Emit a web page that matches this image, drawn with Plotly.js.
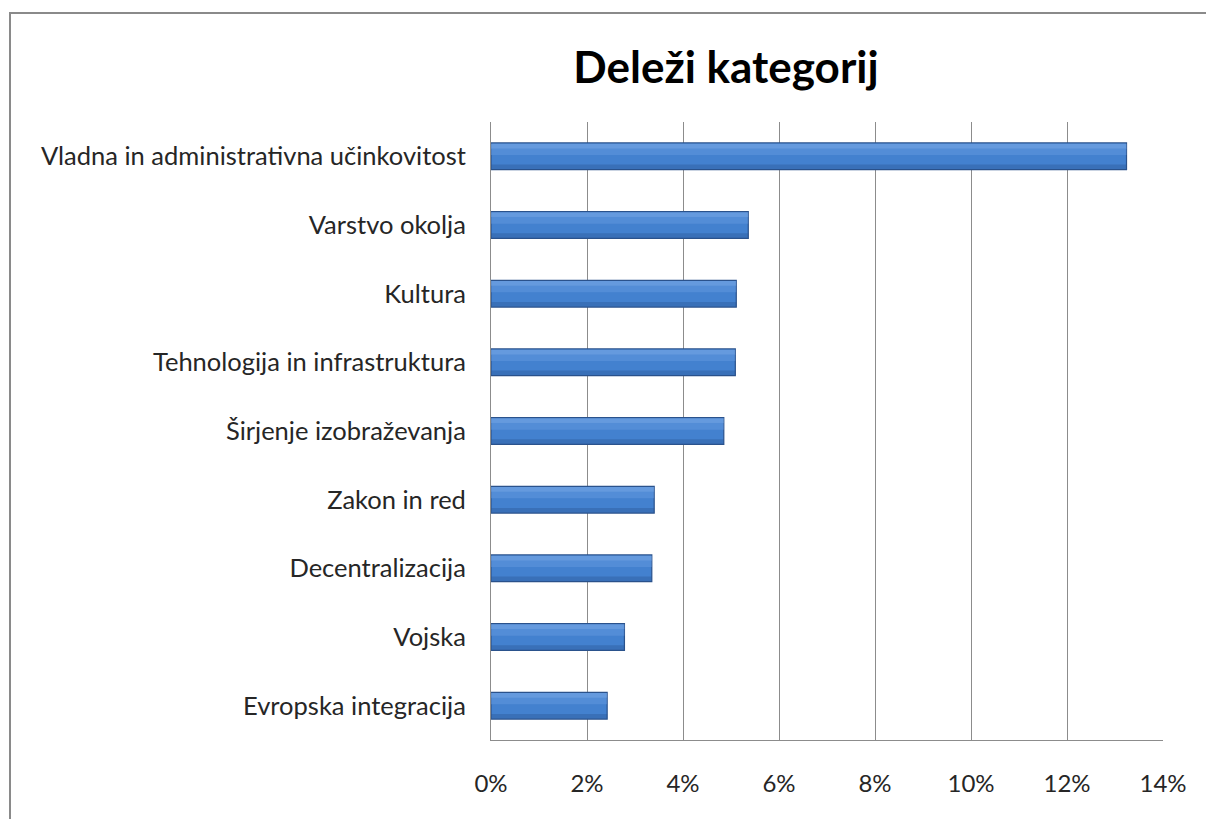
<!DOCTYPE html>
<html>
<head>
<meta charset="utf-8">
<script src="https://cdn.plot.ly/plotly-3.0.1.min.js"></script>
<style>
  html, body { margin: 0; padding: 0; background: #fff; }
  #chart { width: 1206px; height: 819px; }
  #frame { position: absolute; left: 9px; top: 12px; width: 1197px; height: 807px;
           border-top: 2px solid #8a8a8a; border-left: 2px solid #8a8a8a; pointer-events: none; }
</style>
</head>
<body>
<div id="chart"></div>
<div id="frame"></div>
<script>
const categories = [
  "Vladna in administrativna učinkovitost",
  "Varstvo okolja",
  "Kultura",
  "Tehnologija in infrastruktura",
  "Širjenje izobraževanja",
  "Zakon in red",
  "Decentralizacija",
  "Vojska",
  "Evropska integracija"
];
const shares = [0.1324, 0.0536, 0.0511, 0.0509, 0.0485, 0.0340, 0.0335, 0.0278, 0.0242];
const tickValues = [0, 0.02, 0.04, 0.06, 0.08, 0.10, 0.12, 0.14];
const tickLabels = ["0%", "2%", "4%", "6%", "8%", "10%", "12%", "14%"];

const FONT = "Lato, 'Open Sans', sans-serif";

const traces = [
  {
    type: "bar",
    orientation: "h",
    y: categories,
    x: shares,
    marker: { color: "#4381cf", line: { color: "#2a528c", width: 1.2 } },
    hoverinfo: "x+y"
  },
  {
    type: "bar",
    orientation: "h",
    y: categories,
    x: shares,
    width: 0.07,
    offset: -0.185,
    marker: { color: "rgba(125,172,232,0.6)", line: { width: 0 } },
    hoverinfo: "skip"
  },
  {
    type: "bar",
    orientation: "h",
    y: categories,
    x: shares,
    width: 0.1,
    offset: -0.12,
    marker: { color: "rgba(105,156,224,0.45)", line: { width: 0 } },
    hoverinfo: "skip"
  },
  {
    type: "bar",
    orientation: "h",
    y: categories,
    x: shares,
    width: 0.07,
    offset: 0.12,
    marker: { color: "rgba(40,80,140,0.35)", line: { width: 0 } },
    hoverinfo: "skip"
  }
];

const layout = {
  width: 1206,
  height: 819,
  paper_bgcolor: "#ffffff",
  plot_bgcolor: "#ffffff",
  showlegend: false,
  barmode: "overlay",
  bargap: 0.61,
  margin: { l: 491, r: 43, t: 122, b: 79 },
  title: {
    text: "<b>Deleži kategorij</b>",
    font: { family: FONT, size: 44, color: "#000" },
    x: 0.602, xanchor: "center",
    y: 0.917, yanchor: "middle"
  },
  xaxis: {
    range: [0, 0.14],
    tickvals: tickValues,
    ticktext: tickLabels,
    showgrid: true,
    gridcolor: "#8c8c8c",
    gridwidth: 1,
    showline: true,
    linecolor: "#8c8c8c",
    linewidth: 1,
    zeroline: false,
    ticks: "",
    ticklabelstandoff: 22,
    tickfont: { family: FONT, size: 24, color: "#262626" },
    fixedrange: true
  },
  yaxis: {
    autorange: "reversed",
    showgrid: false,
    showline: true,
    linecolor: "#8c8c8c",
    linewidth: 1,
    ticks: "",
    ticklabelstandoff: 19,
    tickfont: { family: FONT, size: 25.5, color: "#262626" },
    fixedrange: true
  }
};

Plotly.newPlot("chart", traces, layout, { displayModeBar: false, staticPlot: true });
</script>
</body>
</html>
